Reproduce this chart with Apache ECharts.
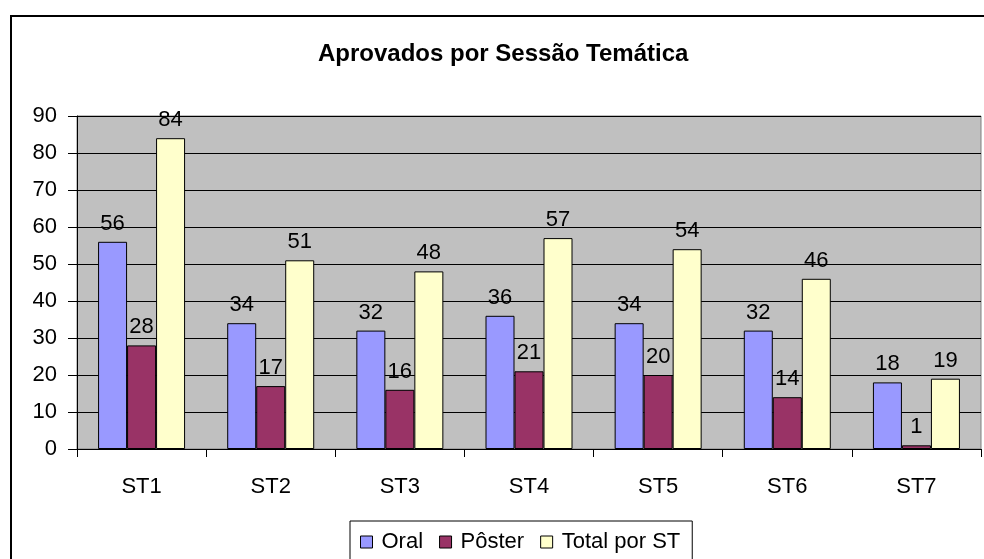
<!DOCTYPE html>
<html lang="pt">

<head>
    <meta charset="UTF-8">
    <title>Aprovados por Sessão Temática</title>
    <script src="https://cdnjs.cloudflare.com/ajax/libs/echarts/6.0.0/echarts.min.js"></script>
    <style>
        body {
            margin: 0;
            background: #fff;
        }
    </style>
</head>

<body>
    <div id="main" style="width: 984px;height:559px;"></div>
    <script>
        const sessoes = ["ST1", "ST2", "ST3", "ST4", "ST5", "ST6", "ST7"];
        const oral = [56, 34, 32, 36, 34, 32, 18];
        const poster = [28, 17, 16, 21, 20, 14, 1];
        const total = [84, 51, 48, 57, 54, 46, 19];
        const yTicks = [0, 10, 20, 30, 40, 50, 60, 70, 80, 90];

        const chart = echarts.init(document.getElementById('main'));
        const fonte = "'Liberation Sans', Arial, sans-serif";

        function serie(name, data, color) {
            return {
                name: name,
                type: 'bar',
                data: data,
                barWidth: 29,
                barGap: '0%',
                itemStyle: {
                    color: color,
                    borderColor: '#000',
                    borderWidth: 1
                },
                label: {
                    show: true,
                    position: 'top',
                    distance: 7,
                    color: '#000',
                    fontSize: 22,
                    fontFamily: fonte
                }
            };
        }

        const option = {
            animation: false,
            title: {
                text: "Aprovados por Sessão Temática",
                left: 313,
                top: 37,
                textStyle: {
                    fontSize: 24,
                    fontWeight: 'bold',
                    color: '#000',
                    fontFamily: fonte
                }
            },
            legend: {
                data: ["Oral", "Pôster", "Total por ST"],
                left: 350,
                top: 521,
                orient: 'horizontal',
                padding: [10, 12, 20, 10],
                borderColor: '#000',
                borderWidth: 1,
                itemWidth: 12,
                itemHeight: 12,
                itemGap: 16,
                icon: 'rect',
                itemStyle: {
                    borderColor: '#000',
                    borderWidth: 1
                },
                textStyle: {
                    fontSize: 22,
                    color: '#000',
                    fontFamily: fonte,
                    padding: [0, 0, 0, 4]
                }
            },
            grid: {
                left: 77,
                right: 3,
                top: 116,
                bottom: 110,
                show: true,
                backgroundColor: '#C0C0C0',
                borderColor: '#808080',
                borderWidth: 1
            },
            xAxis: {
                type: 'category',
                data: sessoes,
                axisLine: { lineStyle: { color: '#000', width: 1 } },
                axisTick: { show: true, length: 8, lineStyle: { color: '#000' } },
                axisLabel: {
                    margin: 27,
                    fontSize: 22,
                    color: '#000',
                    fontFamily: fonte
                }
            },
            yAxis: {
                type: 'value',
                min: yTicks[0],
                max: yTicks[yTicks.length - 1],
                interval: 10,
                axisLine: { show: true, lineStyle: { color: '#000', width: 1 } },
                axisTick: { show: true, length: 9, lineStyle: { color: '#000' } },
                splitLine: { lineStyle: { color: '#000', width: 1 } },
                axisLabel: {
                    margin: 20,
                    fontSize: 22,
                    color: '#000',
                    fontFamily: fonte
                }
            },
            graphic: [
                {
                    type: 'rect',
                    shape: { x: 11, y: 16, width: 1000, height: 600 },
                    style: { fill: 'none', stroke: '#000', lineWidth: 2 },
                    silent: true
                }
            ],
            series: [
                serie("Oral", oral, '#9999FF'),
                serie("Pôster", poster, '#993366'),
                serie("Total por ST", total, '#FFFFCC')
            ]
        };

        chart.setOption(option);
    </script>
</body>

</html>
